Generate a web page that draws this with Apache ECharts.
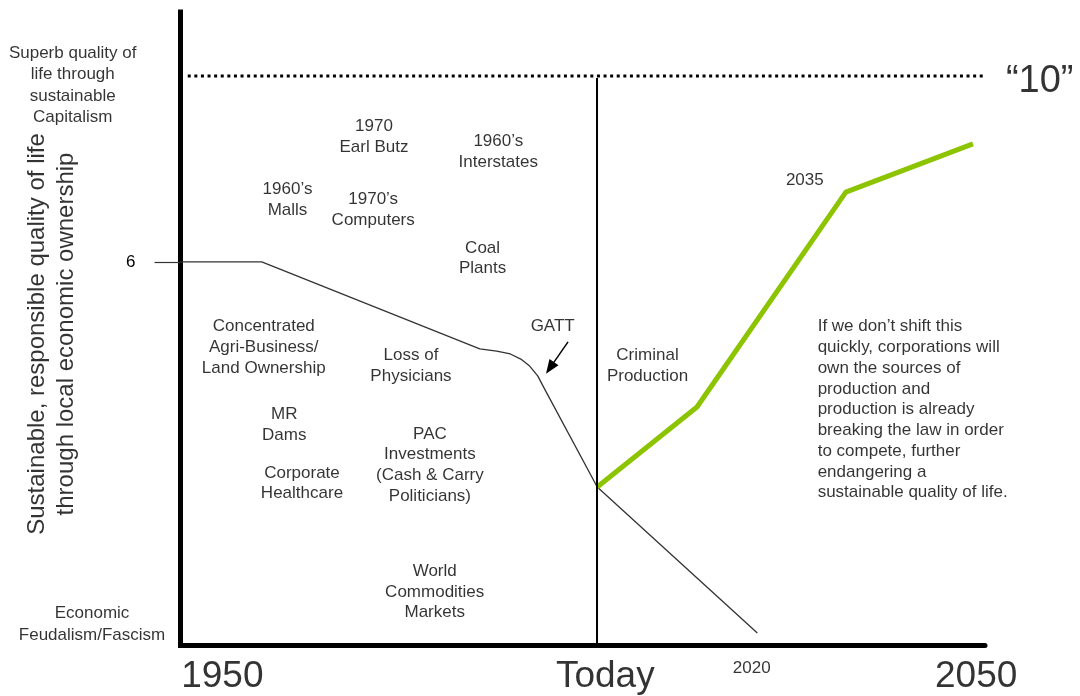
<!DOCTYPE html>
<html>
<head>
<meta charset="utf-8">
<script src="https://cdn.jsdelivr.net/npm/echarts@6/dist/echarts.min.js"></script>
<style>
html,body{margin:0;padding:0;background:#fff;}
#chart{width:1080px;height:696px;}
</style>
</head>
<body>
<div id="chart"></div>
<script>
// ---- data (x = year, y = quality level) ----
const todayYear = 2001.8;
const blackYears  = [1950, 1960.1, 1987.2, 1989.3, 1991.0, 1992.3, 1993.4, 1994.4, 1995.4, 2001.8, 2021.7];
const blackLevels = [6.0, 6.0, 4.13, 4.08, 4.02, 3.91, 3.76, 3.55, 3.22, 1.16, -1.98];
const greenYears  = [2001.8, 2014.2, 2032.7, 2048.5];
const greenLevels = [1.16, 2.88, 7.50, 8.54];
const targetLevel = 10;
const targetYears = [1950.9, 2049.75];
const startLevel = 6;

// annotations inside the plot
const noteTexts  = ['1970\nEarl Butz', '1960\u2019s\nInterstates', '1960\u2019s\nMalls', '1970\u2019s\nComputers',
  'Coal\nPlants', 'Concentrated\nAgri-Business/\nLand Ownership', 'Loss of\nPhysicians', 'GATT', 'MR\nDams',
  'Corporate\nHealthcare', 'PAC\nInvestments\n(Cash & Carry\nPoliticians)', 'World\nCommodities\nMarkets',
  'Criminal\nProduction', '2035'];
const noteYears  = [1974.05, 1989.5, 1963.3, 1973.95, 1987.55, 1960.35, 1978.65, 1996.26, 1962.9, 1965.1, 1981.0, 1981.6, 2008.05, 2027.6];
const noteLevels = [8.69, 8.37, 7.33, 7.12, 6.08, 4.16, 3.77, 4.61, 2.49, 1.24, 1.63, -1.10, 3.77, 7.75];

const paraText = "If we don\u2019t shift this\nquickly, corporations will\nown the sources of\nproduction and\nproduction is already\nbreaking the law in order\nto compete, further\nendangering a\nsustainable quality of life.";
const paraPos = [2029.2, 2.82];

const gattArrow = [[1998.17, 4.28], [1995.93, 3.72]];

// side texts (y scale meaning)
const topSideText = 'Superb quality of\nlife through\nsustainable\nCapitalism';
const topSidePos = [1936.6, 9.80];
const bottomSideText = 'Economic\nFeudalism/Fascism';
const bottomSidePos = [1939.0, -1.79];
const yTitle = 'Sustainable, responsible quality of life\nthrough local economic ownership';
const yTitlePos = [1933.97, 4.45];
const tenLabel = '\u201c10\u201d';
const tenPos = [2056.8, 9.87];

// x tick labels
const tickLabels = ['1950', 'Today', '2050'];
const tickYears  = [1955.2, 2002.8, 2048.9];
const tickLevel = -2.92;
const smallTick = '2020';
const smallTickPos = [2021.0, -2.745];

const FONT = "'Liberation Sans', Arial, Helvetica, sans-serif";

function pts(xs, ys){ return xs.map((x,i)=>[x, ys[i]]); }
function textSeries(items, labelOpt){
  return {
    type:'scatter', symbol:'circle', symbolSize:1, clip:false, silent:true, z:5,
    itemStyle:{color:'rgba(0,0,0,0)'},
    data: items.map(it=>({value:it.pos, name:it.text})),
    label: Object.assign({show:true, position:'inside', formatter:'{b}', color:'#000', fontFamily:FONT, fontSize:17, lineHeight:20.7, align:'center', verticalAlign:'middle'}, labelOpt)
  };
}

const chart = echarts.init(document.getElementById('chart'), null, {renderer:'canvas'});
chart.setOption({
  animation:false,
  backgroundColor:'#fff',
  grid:{left:180.5, right:95, top:12, bottom:50.5, containLabel:false},
  xAxis:{type:'value', min:1950, max:2050,
    axisLine:{show:true, onZero:false, lineStyle:{color:'#000', width:5}},
    axisTick:{show:false}, axisLabel:{show:false}, splitLine:{show:false}},
  yAxis:{type:'value', min:-2.25, max:11.375,
    axisLine:{show:true, onZero:false, lineStyle:{color:'#000', width:5, cap:'square'}},
    axisTick:{show:true, customValues:[startLevel], length:26, lineStyle:{color:'#333', width:1.2}},
    axisLabel:{show:true, customValues:[startLevel], margin:45, fontSize:17, color:'#000', fontFamily:FONT},
    splitLine:{show:false}},
  series:[
    {type:'line', data:pts(targetYears,[targetLevel,targetLevel]), symbol:'none', silent:true,
      lineStyle:{color:'#000', width:3, type:[3,3.6], cap:'butt'}},
    {type:'line', data:pts(blackYears, blackLevels), symbol:'none', silent:true, clip:false,
      lineStyle:{color:'#333', width:1.3},
      markLine:{silent:true, symbol:['none','none'], label:{show:false},
        lineStyle:{color:'#000', width:2, type:'solid'},
        data:[[{coord:[todayYear, 9.955]},{coord:[todayYear, -2.25]}]]}},
    {type:'line', data:pts(greenYears, greenLevels), symbol:'none', silent:true,
      lineStyle:{color:'#8cc400', width:5}},
    {type:'line', data:[], markLine:{silent:true, symbol:['none','triangle'], symbolSize:[11,14], label:{show:false},
        lineStyle:{color:'#000', width:1.5, type:'solid'}, itemStyle:{color:'#000'},
        data:[[{coord:gattArrow[0]},{coord:gattArrow[1]}]]}},
    textSeries(noteTexts.map((t,i)=>({text:t, pos:[noteYears[i], noteLevels[i]]})), {}),
    textSeries([{text:paraText, pos:paraPos}], {align:'left', lineHeight:20.75}),
    textSeries([{text:topSideText, pos:topSidePos}], {lineHeight:21.3}),
    textSeries([{text:bottomSideText, pos:bottomSidePos}], {lineHeight:22}),
    textSeries([{text:yTitle, pos:yTitlePos}], {fontSize:24, lineHeight:29, rotate:90}),
    textSeries([{text:tenLabel, pos:tenPos}], {fontSize:38}),
    textSeries(tickLabels.map((t,i)=>({text:t, pos:[tickYears[i], tickLevel]})), {fontSize:37, lineHeight:40}),
    textSeries([{text:smallTick, pos:smallTickPos}], {fontSize:17})
  ]
});
</script>
</body>
</html>
